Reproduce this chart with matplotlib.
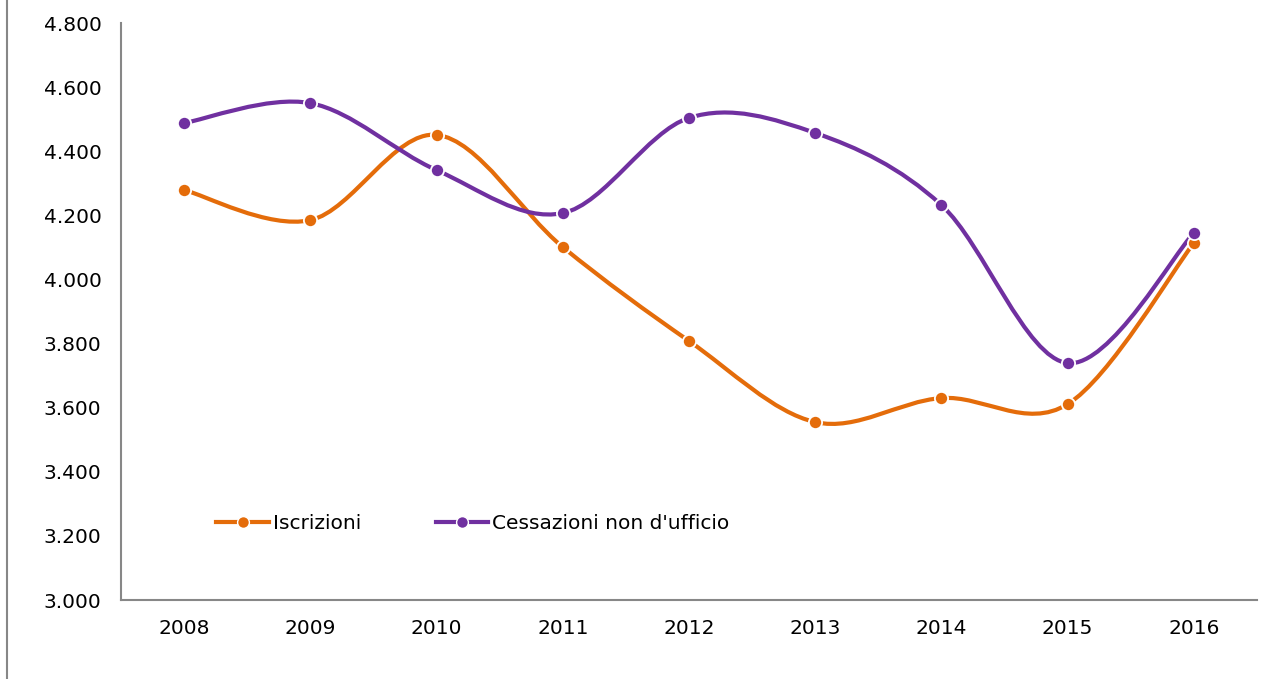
import matplotlib
matplotlib.use("Agg")
import matplotlib.pyplot as plt
from matplotlib.lines import Line2D
from matplotlib.path import Path
from matplotlib.patches import PathPatch
from matplotlib.ticker import FuncFormatter

YEARS = ["2008", "2009", "2010", "2011", "2012", "2013", "2014", "2015", "2016"]
ISCRIZIONI = [4279, 4185, 4451, 4101, 3808, 3555, 3630, 3611, 4114]
CESSAZIONI = [4488, 4550, 4341, 4207, 4504, 4457, 4232, 3739, 4145]

ORANGE = "#E46C0A"
PURPLE = "#7030A0"
GRAY = "#878787"
FONT_SIZE = 14.5


def smooth_path(xs, ys):
	# Bezier smoothing like a spreadsheet "smoothed line"
	pts = list(zip(xs, ys))
	verts = [pts[0]]
	codes = [Path.MOVETO]
	n = len(pts)
	for i in range(n - 1):
		p0 = pts[max(i - 1, 0)]
		p1 = pts[i]
		p2 = pts[i + 1]
		p3 = pts[min(i + 2, n - 1)]
		c1 = (p1[0] + (p2[0] - p0[0]) / 6, p1[1] + (p2[1] - p0[1]) / 6)
		c2 = (p2[0] - (p3[0] - p1[0]) / 6, p2[1] - (p3[1] - p1[1]) / 6)
		verts += [c1, c2, p2]
		codes += [Path.CURVE4] * 3
	return Path(verts, codes)


def fmt_it(value, _pos):
	return f"{int(value):,}".replace(",", ".")


fig = plt.figure(figsize=(12.76, 6.79), dpi=100)
ax = fig.add_axes([121 / 1276, 1 - 600 / 679, (1257 - 121) / 1276, (600 - 23) / 679])

x = list(range(len(YEARS)))
series = [("Iscrizioni", ISCRIZIONI, ORANGE), ("Cessazioni non d'ufficio", CESSAZIONI, PURPLE)]
handles = []
for label, values, color in series:
	ax.add_patch(PathPatch(smooth_path(x, values), facecolor="none", edgecolor=color,
		linewidth=3, capstyle="round", zorder=2))
	ax.plot(x, values, linestyle="none", marker="o", markersize=9.5, color=color,
		markeredgecolor="white", markeredgewidth=1.3, zorder=3)
	handles.append(Line2D([], [], color=color, linewidth=3, marker="o", markersize=8.5,
		markeredgecolor="white", markeredgewidth=1.0, label=label))

ax.set_xlim(-0.5, len(YEARS) - 0.5)
ax.set_ylim(3000, 4800)
ax.set_yticks(range(3000, 4801, 200))
ax.yaxis.set_major_formatter(FuncFormatter(fmt_it))
ax.set_xticks(x)
ax.set_xticklabels(YEARS)
ax.tick_params(axis="both", length=0, labelsize=FONT_SIZE, colors="black")
ax.tick_params(axis="y", pad=14)
ax.tick_params(axis="x", pad=14)

for side in ["top", "right"]:
	ax.spines[side].set_visible(False)
for side in ["left", "bottom"]:
	ax.spines[side].set_color(GRAY)
	ax.spines[side].set_linewidth(1.5)

ax.legend(handles=handles, loc="center left", bbox_to_anchor=(0.068, 0.132), ncol=2,
	frameon=False, fontsize=FONT_SIZE, handlelength=2.6, handletextpad=0.2, columnspacing=3.7,
	numpoints=1)

fig.add_artist(Line2D([7 / 1276, 7 / 1276], [0, 1], color=GRAY, linewidth=1.5))

fig.savefig("out.png", dpi=100)
